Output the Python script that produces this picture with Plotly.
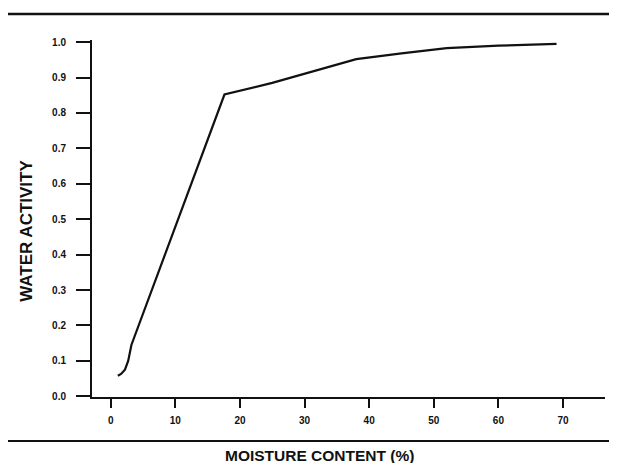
import plotly.graph_objects as go

moisture = [1.1, 1.6, 2.2, 2.7, 3.2, 17.6, 25, 30, 38, 45, 52, 60, 69]
water_activity = [0.058, 0.063, 0.075, 0.1, 0.145, 0.852, 0.885, 0.91, 0.952, 0.968, 0.983, 0.99, 0.995]

x_ticks = [0, 10, 20, 30, 40, 50, 60, 70]
y_ticks = [0.0, 0.1, 0.2, 0.3, 0.4, 0.5, 0.6, 0.7, 0.8, 0.9, 1.0]

FONT = "Liberation Sans"

fig = go.Figure()
fig.add_trace(go.Scatter(x=moisture, y=water_activity, mode="lines",
                         line=dict(color="#111", width=2.2),
                         showlegend=False, hoverinfo="skip"))

fig.update_layout(
    width=617, height=463,
    margin=dict(l=84, r=20, t=32, b=74),
    paper_bgcolor="white", plot_bgcolor="white",
    font=dict(family=FONT, color="#111"),
    xaxis=dict(range=[-2.9, 76.5], tickvals=x_ticks, ticks="outside", ticklen=9, tickwidth=2,
               tickcolor="#111", showline=True, linecolor="#111", linewidth=2, showgrid=False,
               zeroline=False, automargin=False, ticklabelstandoff=4,
               tickfont=dict(size=10, weight="bold", family=FONT)),
    yaxis=dict(range=[-0.002, 1.006], tickvals=y_ticks, tickformat=".1f", ticks="outside", ticklen=14,
               tickwidth=2, tickcolor="#111", showline=True, linecolor="#111", linewidth=2,
               showgrid=False, zeroline=False, automargin=False, ticklabelstandoff=8,
               tickfont=dict(size=10, weight="bold", family=FONT)),
    shapes=[
        dict(type="line", xref="paper", yref="paper", x0=-0.18, x1=1.05, y0=1.073, y1=1.073,
             line=dict(color="#111", width=2.5)),
        dict(type="line", xref="paper", yref="paper", x0=-0.18, x1=1.05, y0=-0.123, y1=-0.123,
             line=dict(color="#111", width=2)),
    ],
    annotations=[
        dict(text="MOISTURE CONTENT (%)", xref="paper", yref="paper", x=0.4425, y=-0.165,
             xanchor="center", yanchor="middle",
             showarrow=False, font=dict(size=15.5, weight="bold", family=FONT)),
        dict(text="WATER ACTIVITY", xref="paper", yref="paper", x=-0.127, y=0.465, textangle=-90,
             xanchor="center", yanchor="middle",
             showarrow=False, font=dict(size=17, weight="bold", family=FONT)),
    ],
)

fig.write_html("out.html")
